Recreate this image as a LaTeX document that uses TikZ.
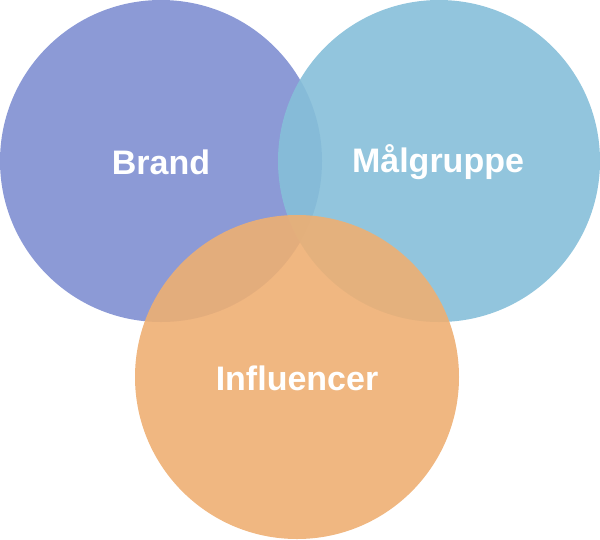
\documentclass[tikz,border=0pt]{standalone}
\usepackage{fontspec}
\setmainfont{Liberation Sans}
\definecolor{cbrand}{HTML}{7F8FD2}
\definecolor{cmaal}{HTML}{86BFD9}
\definecolor{cinfl}{HTML}{EEAF73}
\tikzset{
  circ/.style={fill opacity=0.9, draw=none},
  lbl/.style={text=white, font=\fontsize{34}{40}\selectfont\bfseries}
}
\begin{document}
\begin{tikzpicture}[x=1pt,y=-1pt]
\useasboundingbox (0,0) rectangle (600,539);
\fill[circ, cbrand] (161,161) circle (161);
\fill[circ, cmaal] (439,161) circle (161);
\fill[circ, cinfl] (297,377) circle (162);
\node[lbl] (brand) at (161,162) {Brand};
\node[lbl] (maal) at (438,162) {Målgruppe};
\node[lbl] (infl) at (297,378) {Influencer};
\end{tikzpicture}
\end{document}
